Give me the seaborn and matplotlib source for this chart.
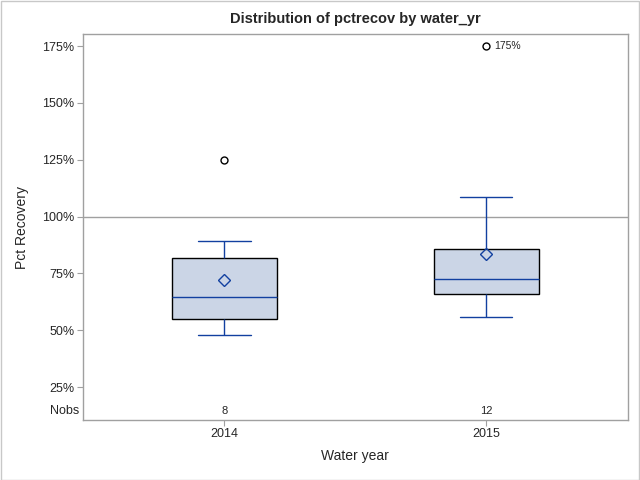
import pandas as pd
import seaborn as sns
import matplotlib.pyplot as plt
from matplotlib.ticker import FuncFormatter

# Valores (pct de recuperacao por ano hidrologico)
anos = ["2014", "2015"]
pct_2014 = [48.1, 48.5, 57.2, 62.0, 67.6, 79.3, 89.4, 125.0]
pct_2015 = [56.0, 58.7, 65.0, 66.3, 70.0, 71.0, 74.2, 85.0, 85.0, 88.2, 108.8, 175.0]
yticks = [25, 50, 75, 100, 125, 150, 175]

df = pd.DataFrame({
    "water_yr": [anos[0]] * len(pct_2014) + [anos[1]] * len(pct_2015),
    "pctrecov": pct_2014 + pct_2015,
})

sns.set_style("white")
plt.rcParams["font.family"] = ["Liberation Sans", "DejaVu Sans"]

azul = "#1240A0"
cinza = "#A0A0A0"

fig = plt.figure(figsize=(6.4, 4.8), dpi=100)
ax = fig.add_axes([0.1297, 0.125, 0.851, 0.804])

sns.boxplot(
    x="water_yr", y="pctrecov", data=df, order=anos, ax=ax,
    width=0.40, color="#CBD5E6", linewidth=1.0,
    showmeans=True,
    boxprops=dict(facecolor="#CBD5E6", edgecolor="black", linewidth=1.0),
    medianprops=dict(color=azul, linewidth=1.0),
    whiskerprops=dict(color=azul, linewidth=1.0),
    capprops=dict(color=azul, linewidth=1.0),
    meanprops=dict(marker="D", markerfacecolor="none", markeredgecolor=azul,
                   markeredgewidth=1.0, markersize=6),
    flierprops=dict(marker="o", markerfacecolor="none", markeredgecolor="black",
                    markeredgewidth=1.0, markersize=5),
)

# linha de referencia em 100%
ax.axhline(100, color=cinza, linewidth=1, zorder=0.5)

# rotulo do maior outlier
maximo = max(pct_2015)
ax.text(1 + 0.03, maximo, f"{maximo:.0f}%", fontsize=7.5, va="center", ha="left")

ax.set_ylim(10.5, 180.3)
ax.set_xlim(-0.54, 1.54)
ax.set_yticks(yticks)
ax.yaxis.set_major_formatter(FuncFormatter(lambda v, p: f"{v:.0f}%"))
ax.tick_params(axis="both", labelsize=9, length=4, color=cinza, direction="out",
               left=True, bottom=True, pad=2)

# linha Nobs
ax.text(-0.006, 14.4, "Nobs", transform=ax.get_yaxis_transform(), ha="right",
        va="center", fontsize=9)
for i, vals in enumerate([pct_2014, pct_2015]):
    ax.text(i, 14.4, str(len(vals)), ha="center", va="center", fontsize=8)

for s in ax.spines.values():
    s.set_color(cinza)
    s.set_linewidth(1)

ax.set_xlabel("Water year", fontsize=10, labelpad=6)
ax.set_ylabel("Pct Recovery", fontsize=10, labelpad=10)
ax.set_title("Distribution of pctrecov by water_yr", fontsize=10.5,
             fontweight="bold", pad=8)

# borda externa da figura
fig.patches.append(plt.Rectangle((0.001, 0.001), 0.997, 0.997, transform=fig.transFigure,
                                 fill=False, edgecolor="#C8C8C8", linewidth=1))

plt.savefig("out.png", dpi=100)
